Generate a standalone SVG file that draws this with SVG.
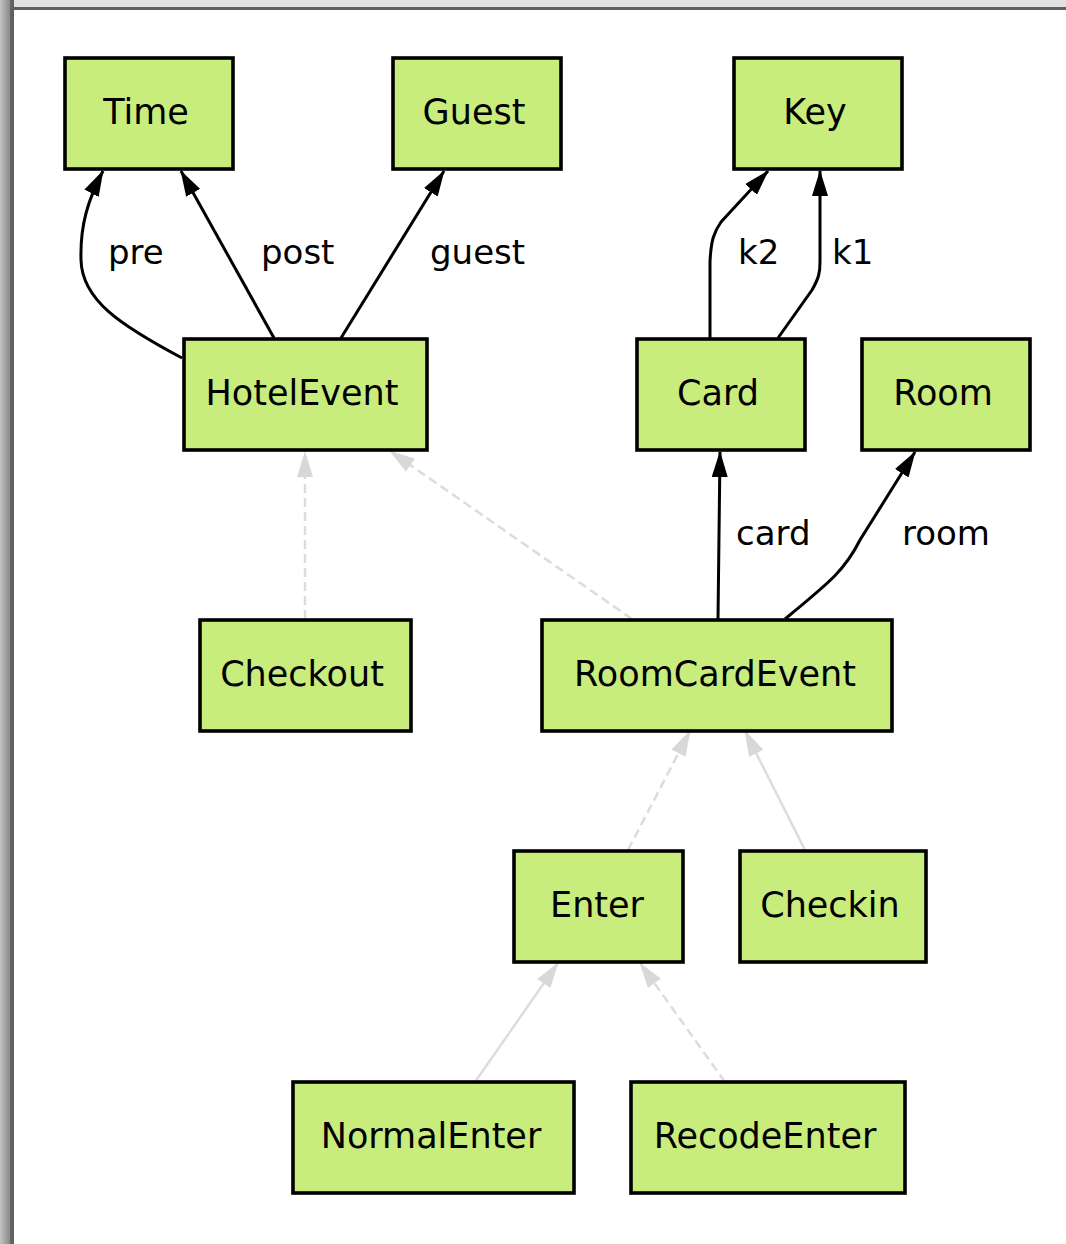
<svg xmlns="http://www.w3.org/2000/svg" width="1066" height="1244" viewBox="0 0 1066 1244">
<defs>
<linearGradient id="lg" x1="0" y1="0" x2="1" y2="0">
<stop offset="0" stop-color="#c4c4c4"/>
<stop offset="0.7" stop-color="#8a8a8a"/>
<stop offset="0.75" stop-color="#656565"/>
<stop offset="1" stop-color="#5e5e5e"/>
</linearGradient>
<marker id="ab" viewBox="0 0 26 16" refX="25" refY="8" markerWidth="26" markerHeight="16" markerUnits="userSpaceOnUse" orient="auto">
<path d="M0,0 L26,8 L0,16 z" fill="#000"/>
</marker>
<marker id="ag" viewBox="0 0 26 16" refX="25" refY="8" markerWidth="26" markerHeight="16" markerUnits="userSpaceOnUse" orient="auto">
<path d="M0,0 L26,8 L0,16 z" fill="#d8d8d8"/>
</marker>
</defs>
<style>
.n rect{fill:#c8ed7d;stroke:#000;stroke-width:3.6}
.n text{font-family:"DejaVu Sans",sans-serif;font-size:35px;fill:#000;text-anchor:middle}
.e{fill:none;stroke:#000;stroke-width:3;marker-end:url(#ab)}
.g{fill:none;stroke:#dcdcdc;stroke-width:2.5;marker-end:url(#ag)}
.d{stroke-dasharray:9 5}
.l{font-family:"DejaVu Sans",sans-serif;font-size:34px;fill:#000}
</style>
<rect x="0" y="0" width="1066" height="1244" fill="#fff"/>
<rect x="0" y="0" width="1066" height="7" fill="#e2e2e2"/>
<rect x="0" y="7" width="1066" height="3" fill="#606060"/>
<rect x="0" y="0" width="14" height="1244" fill="url(#lg)"/>
<g id="connectors">
<path class="e" d="M182,358 C120,325 82,300 81,260 C80,225 88,200 103,171"/>
<path class="e" d="M274,338 L181,171"/>
<path class="e" d="M341,338 L444,171"/>
<path class="e" d="M710,338 L710,262 C711,240 714,232 721,222 L768,171"/>
<path class="e" d="M778,338 L812,290 C819,278 820,272 820,262 L820,171"/>
<path class="e" d="M718,619 L720,452"/>
<path class="e" d="M785,619 C830,582 845,570 860,540 L915,452"/>
<path class="g d" d="M305,619 L305,452"/>
<path class="g d" d="M632,619 L390,451"/>
<path class="g d" d="M628,850 L690,731"/>
<path class="g" d="M805,850 L745,731"/>
<path class="g" d="M475,1082 L558,963"/>
<path class="g d" d="M725,1082 L640,963"/>
<text class="l" x="108" y="264">pre</text>
<text class="l" x="261" y="264">post</text>
<text class="l" x="430" y="264">guest</text>
<text class="l" x="738" y="264">k2</text>
<text class="l" x="832" y="264">k1</text>
<text class="l" x="736" y="545">card</text>
<text class="l" x="902" y="545">room</text>
</g>
<g id="Time" class="n"><rect x="65" y="58" width="168" height="111"/><text x="146" y="124">Time</text></g>
<g id="Guest" class="n"><rect x="393" y="58" width="168" height="111"/><text x="474" y="124">Guest</text></g>
<g id="Key" class="n"><rect x="734" y="58" width="168" height="111"/><text x="815" y="124">Key</text></g>
<g id="HotelEvent" class="n"><rect x="184" y="339" width="243" height="111"/><text x="302" y="405">HotelEvent</text></g>
<g id="Card" class="n"><rect x="637" y="339" width="168" height="111"/><text x="718" y="405">Card</text></g>
<g id="Room" class="n"><rect x="862" y="339" width="168" height="111"/><text x="943" y="405">Room</text></g>
<g id="Checkout" class="n"><rect x="200" y="620" width="211" height="111"/><text x="302" y="686">Checkout</text></g>
<g id="RoomCardEvent" class="n"><rect x="542" y="620" width="350" height="111"/><text x="715" y="686">RoomCardEvent</text></g>
<g id="Enter" class="n"><rect x="514" y="851" width="169" height="111"/><text x="597" y="917">Enter</text></g>
<g id="Checkin" class="n"><rect x="740" y="851" width="186" height="111"/><text x="830" y="917">Checkin</text></g>
<g id="NormalEnter" class="n"><rect x="293" y="1082" width="281" height="111"/><text x="431" y="1148">NormalEnter</text></g>
<g id="RecodeEnter" class="n"><rect x="631" y="1082" width="274" height="111"/><text x="765" y="1148">RecodeEnter</text></g>
</svg>
